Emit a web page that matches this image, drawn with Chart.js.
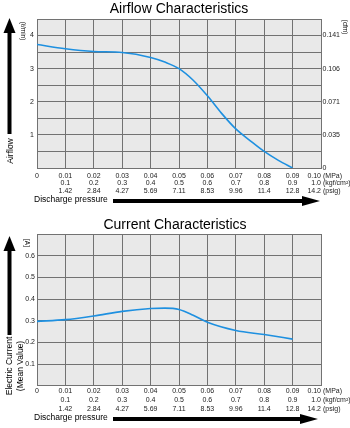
<!DOCTYPE html>
<html lang="en">
<head>
<meta charset="UTF-8">
<title>Airflow and Current Characteristics</title>
<script src="https://cdn.jsdelivr.net/npm/chart.js"></script>
<style>
  body { margin: 0; background: #fff; }
  canvas { display: block; }
</style>
</head>
<body>
<canvas id="airflow-chart" width="350" height="208"></canvas>
<canvas id="current-chart" width="350" height="220"></canvas>

<script>
// Discharge pressure axis labels (three unit systems)
const mpaTicks = ['0', '0.01', '0.02', '0.03', '0.04', '0.05', '0.06', '0.07', '0.08', '0.09', '0.10'];
const kgfTicks = ['', '0.1', '0.2', '0.3', '0.4', '0.5', '0.6', '0.7', '0.8', '0.9', '1.0'];
const psigTicks = ['', '1.42', '2.84', '4.27', '5.69', '7.11', '8.53', '9.96', '11.4', '12.8', '14.2'];
const pressureUnits = ['(MPa)', '(kgf/cm²)', '(psig)'];

// Airflow axis: L/min on the left, cfm on the right
const cfmTicks = ['0', '0.035', '0.071', '0.106', '0.141'];
const currentTicks = ['', '0.1', '0.2', '0.3', '0.4', '0.5', '0.6', ''];

// Airflow curve
const airflowPressure = [0, 0.01, 0.02, 0.03, 0.04, 0.045, 0.05, 0.055, 0.06, 0.065, 0.07, 0.075, 0.08, 0.085, 0.09];
const airflowLpm = [3.73, 3.6, 3.52, 3.49, 3.34, 3.2, 3.0, 2.65, 2.18, 1.65, 1.18, 0.83, 0.5, 0.23, 0];

// Current curve
const currentPressure = [0, 0.01, 0.02, 0.03, 0.04, 0.045, 0.05, 0.055, 0.06, 0.07, 0.08, 0.09];
const currentAmps = [0.297, 0.305, 0.322, 0.343, 0.356, 0.358, 0.352, 0.325, 0.293, 0.255, 0.236, 0.215];

const FONT = "'Liberation Sans', Arial, Helvetica, sans-serif";
const GRID = '#727272';
const LINE = '#1e90e0';

function upArrow(ctx, x, top, bottom) {
    ctx.fillRect(x - 2, top + 12, 4, bottom - top - 12);
    ctx.beginPath();
    ctx.moveTo(x, top);
    ctx.lineTo(x + 6, top + 15);
    ctx.lineTo(x - 6, top + 15);
    ctx.closePath();
    ctx.fill();
}

function rightArrow(ctx, left, right, y) {
    ctx.fillRect(left, y - 2, right - left - 16, 4);
    ctx.beginPath();
    ctx.moveTo(right, y);
    ctx.lineTo(right - 18, y - 5);
    ctx.lineTo(right - 18, y + 5);
    ctx.closePath();
    ctx.fill();
}

function turnedText(ctx, text, x, y, angle, size) {
    ctx.save();
    ctx.translate(x, y);
    ctx.rotate(angle);
    ctx.font = size + 'px ' + FONT;
    ctx.textAlign = 'center';
    ctx.textBaseline = 'middle';
    ctx.fillText(text, 0, 0);
    ctx.restore();
}

// grey plot background, arrows, axis names and the last pressure tick with units
const decorPlugin = {
    id: 'decor',
    beforeDraw(chart, args, opts) {
        const a = chart.chartArea;
        const ctx = chart.ctx;
        ctx.save();
        ctx.fillStyle = '#e9e9e9';
        ctx.fillRect(a.left, a.top, a.right - a.left, a.bottom - a.top);
        ctx.restore();
    },
    afterDraw(chart, args, opts) {
        const ctx = chart.ctx;
        const a = chart.chartArea;
        const xs = chart.scales.x;
        ctx.save();
        ctx.fillStyle = '#000';

        upArrow(ctx, 9.5, opts.arrowTop, opts.arrowBottom);
        opts.yNames.forEach(n => turnedText(ctx, n.text, n.x, n.y, -Math.PI / 2, 8.5));
        opts.units.forEach(n => turnedText(ctx, n.text, n.x, n.y, Math.PI / 2, 6.5));

        ctx.font = '8.5px ' + FONT;
        ctx.textAlign = 'left';
        ctx.textBaseline = 'middle';
        ctx.fillText('Discharge pressure', 34, opts.nameY);
        rightArrow(ctx, 113, opts.barRight, opts.barY);

        // last tick: values right-aligned to the grid line, units after them
        const px = xs.getPixelForValue(0.1);
        const tf = xs.options.ticks;
        const lh = tf.font.size * tf.font.lineHeight;
        const y0 = a.bottom + tf.padding + lh / 2;
        ctx.font = tf.font.size + 'px ' + FONT;
        ctx.fillStyle = '#222';
        const last = [mpaTicks[10], kgfTicks[10], psigTicks[10]];
        last.forEach((t, i) => {
            ctx.textAlign = 'right';
            ctx.fillText(t, px, y0 + i * lh);
            ctx.textAlign = 'left';
            ctx.fillText(pressureUnits[i], px + 2, y0 + i * lh);
        });
        ctx.restore();
    }
};

function pressureAxis(axisHeight, pad, lineHeight) {
    return {
        type: 'linear',
        min: 0,
        max: 0.1,
        afterBuildTicks(scale) {
            scale.ticks = mpaTicks.map((_, i) => ({ value: i / 100 }));
        },
        afterFit(scale) { scale.height = axisHeight; },
        grid: { color: GRID, lineWidth: 1, drawTicks: false },
        border: { color: GRID },
        ticks: {
            autoSkip: false,
            maxRotation: 0,
            padding: pad,
            color: '#222',
            font: { family: FONT, size: 7, lineHeight: lineHeight },
            callback: (v, i) => {
                if (i === 0) return [mpaTicks[0]];
                if (i === 10) return '';
                return [mpaTicks[i], kgfTicks[i], psigTicks[i]];
            }
        }
    };
}

const tickFont = { family: FONT, size: 7 };

new Chart(document.getElementById('airflow-chart'), {
    type: 'line',
    data: {
        datasets: [{
            data: airflowPressure.map((p, i) => ({ x: p, y: airflowLpm[i] })),
            borderColor: LINE,
            borderWidth: 1.6,
            pointRadius: 0,
            cubicInterpolationMode: 'monotone',
            yAxisID: 'y'
        }]
    },
    options: {
        responsive: false,
        animation: false,
        layout: { padding: 0 },
        plugins: {
            legend: { display: false },
            tooltip: { enabled: false },
            title: {
                display: true,
                text: 'Airflow Characteristics',
                fullSize: false,
                color: '#000',
                font: { family: FONT, size: 14, weight: 'normal' },
                padding: { top: 1, bottom: 1.2 }
            },
            decor: {
                arrowTop: 18, arrowBottom: 134,
                yNames: [{ text: 'Airflow', x: 11, y: 151 }],
                units: [{ text: '(ℓ/min)', x: 22.5, y: 31 }, { text: '(cfm)', x: 345, y: 27 }],
                nameY: 200, barY: 201, barRight: 320
            }
        },
        scales: {
            x: pressureAxis(40, 4.5, 1.05),
            y: {
                min: 0,
                max: 4.5,
                afterBuildTicks(scale) {
                    scale.ticks = Array.from({ length: 10 }, (_, i) => ({ value: i * 0.5 }));
                },
                afterFit(scale) { scale.width = 37; },
                grid: { color: GRID, lineWidth: 1, drawTicks: false },
                border: { color: GRID },
                ticks: {
                    padding: 3,
                    color: '#222',
                    font: tickFont,
                    callback: v => (Number.isInteger(v) && v > 0 ? String(v) : '')
                }
            },
            y2: {
                position: 'right',
                min: 0,
                max: 4.5,
                afterBuildTicks(scale) {
                    scale.ticks = Array.from({ length: 10 }, (_, i) => ({ value: i * 0.5 }));
                },
                afterFit(scale) { scale.width = 29; },
                grid: { display: false, drawTicks: false },
                border: { color: GRID },
                ticks: {
                    padding: 1.5,
                    color: '#222',
                    font: tickFont,
                    callback: v => (Number.isInteger(v) ? cfmTicks[v] : '')
                }
            }
        }
    },
    plugins: [decorPlugin]
});

new Chart(document.getElementById('current-chart'), {
    type: 'line',
    data: {
        datasets: [{
            data: currentPressure.map((p, i) => ({ x: p, y: currentAmps[i] })),
            borderColor: LINE,
            borderWidth: 1.6,
            pointRadius: 0,
            cubicInterpolationMode: 'monotone',
            yAxisID: 'y'
        }]
    },
    options: {
        responsive: false,
        animation: false,
        layout: { padding: 0 },
        plugins: {
            legend: { display: false },
            tooltip: { enabled: false },
            title: {
                display: true,
                text: 'Current Characteristics',
                color: '#000',
                font: { family: FONT, size: 14, weight: 'normal' },
                padding: { top: 8.6, bottom: 0.6 }
            },
            decor: {
                arrowTop: 28, arrowBottom: 127,
                yNames: [{ text: 'Electric Current', x: 10, y: 158 }, { text: '(Mean Value)', x: 20.5, y: 158 }],
                units: [{ text: '[A]', x: 27, y: 35 }],
                nameY: 210, barY: 211, barRight: 318
            }
        },
        scales: {
            x: pressureAxis(42.3, 1, 1.25),
            y: {
                min: 0,
                max: 0.7,
                afterBuildTicks(scale) {
                    scale.ticks = currentTicks.map((_, i) => ({ value: i / 10 }));
                },
                afterFit(scale) { scale.width = 37; },
                grid: { color: GRID, lineWidth: 1, drawTicks: false },
                border: { color: GRID },
                ticks: {
                    padding: 2,
                    color: '#222',
                    font: tickFont,
                    callback: (v, i) => currentTicks[i]
                }
            },
            // empty right axis keeps the plot the same width as the airflow one
            y2: {
                position: 'right',
                min: 0,
                max: 0.7,
                afterFit(scale) { scale.width = 29; },
                grid: { display: false, drawTicks: false },
                border: { color: GRID },
                ticks: { display: false }
            }
        }
    },
    plugins: [decorPlugin]
});
</script>
</body>
</html>
